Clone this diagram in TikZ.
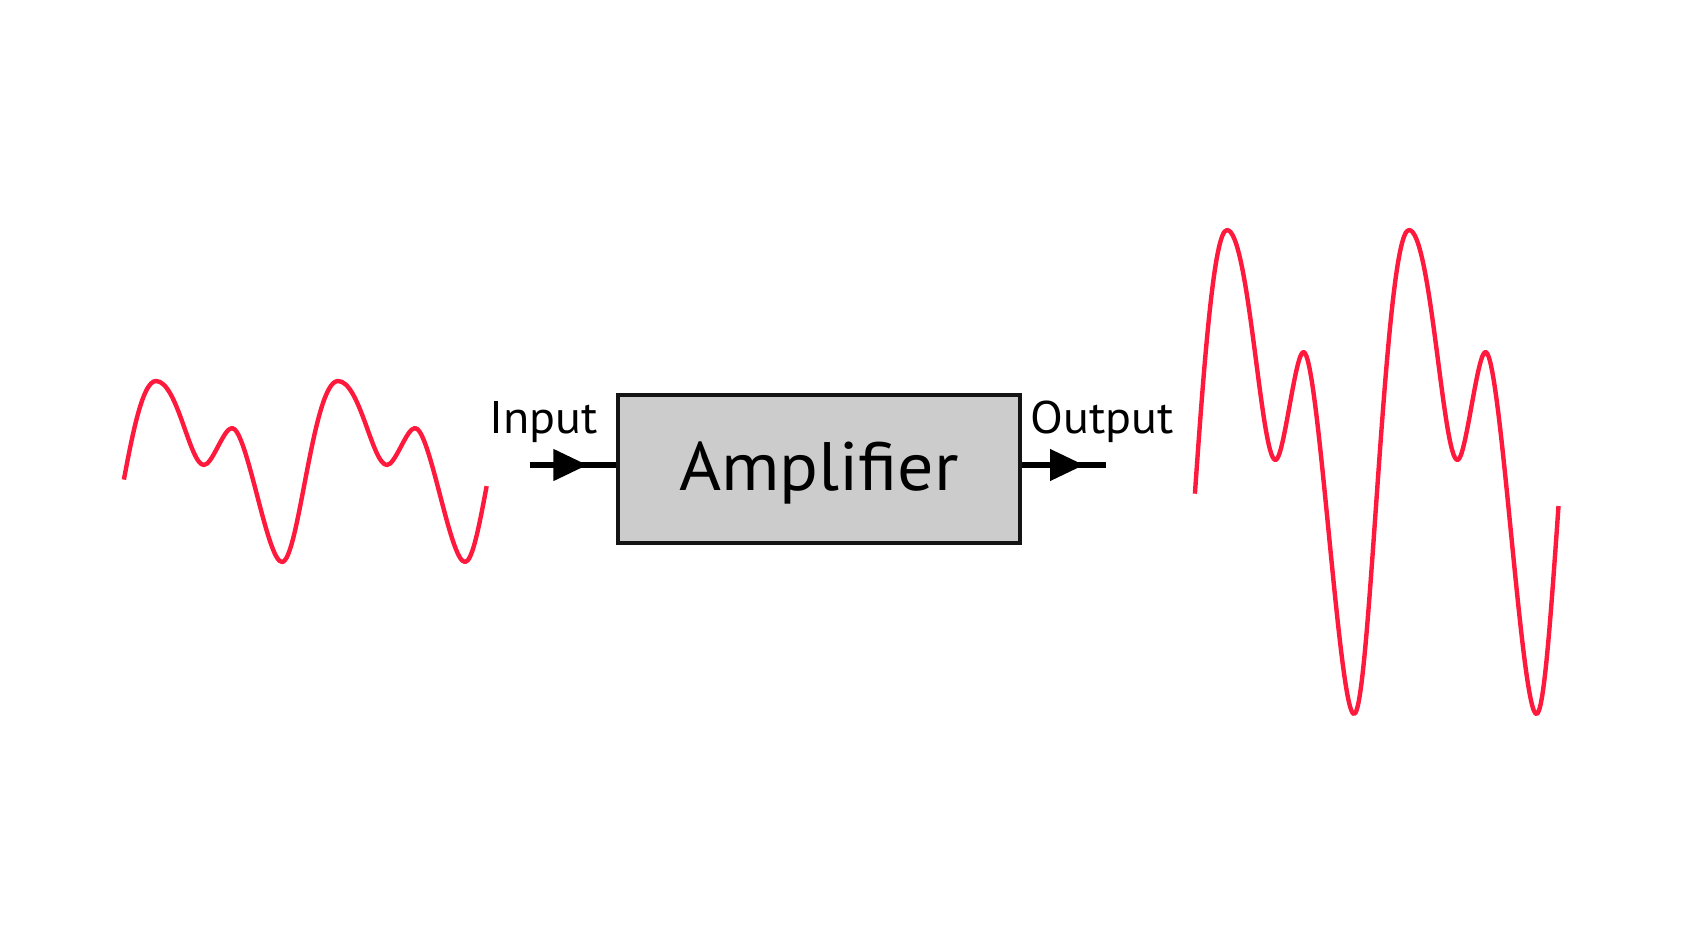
\documentclass[tikz,border=0pt]{standalone}
\usepackage{fontspec}
\newfontfamily\labelfont[FakeStretch=1.05]{PT Sans}
\usetikzlibrary{arrows.meta,decorations.markings}
\definecolor{wavered}{RGB}{255,25,60}
\definecolor{boxgray}{RGB}{204,204,204}
\definecolor{boxline}{RGB}{20,20,20}
\begin{document}
\begin{tikzpicture}[x=0.75pt,y=-0.75pt,
  wave/.style={draw=wavered, line width=3.3pt, line cap=butt, line join=round},
  ampbox/.style={draw=boxline, fill=boxgray, line width=3pt,
    minimum width=301.5pt, minimum height=111pt, inner sep=0pt,
    font=\labelfont\fontsize{51.4pt}{60pt}\selectfont,
    text height=34.5pt, text depth=1.5pt},
  iolabel/.style={inner sep=0pt, anchor=base west,
    font=\labelfont\fontsize{34.3pt}{40pt}\selectfont},
  signal/.style={line width=4.2pt, draw=black, postaction={decorate},
    decoration={markings, mark=at position #1 with {\arrow{Triangle[length=25.5pt,width=23pt]}}}}
]
\useasboundingbox[fill=white] (0,0) rectangle (1684,946);

% amplifier block
\node[ampbox] (amp) at (819,468.5) {Amplifier};

% labels
\node[iolabel] (inlbl) at (489,433) {Input};
\node[iolabel] (outlbl) at (1030,433) {Output};

% connectors
\coordinate (insrc) at (530,465);
\coordinate (outdst) at (1106,465);
\draw[signal=0.667] (insrc) -- (insrc -| amp.west);
\draw[signal=0.738] (amp.east |- outdst) -- (outdst);

% input waveform
\draw[wave] (123.9,479.6)
  .. controls (132.85,431.84) and (142.88,381) .. (156,381)
  .. controls +(21.6,0) and +(-14.4,0) .. (204,465)
  .. controls +(8.4,0) and +(-8.4,0) .. (232,428)
  .. controls +(15,0) and +(-15,0) .. (282,562)
  .. controls +(16.8,0) and +(-25.2,0) .. (338,381)
  .. controls +(22,0) and +(-14.7,0) .. (387,465)
  .. controls +(8.4,0) and +(-8.4,0) .. (415,428)
  .. controls +(15,0) and +(-15,0) .. (465,562)
  .. controls (472.36,562) and (479.17,526) .. (486.65,486.1);

% output waveform
\draw[wave] (1194.9,493.7)
  .. controls (1203.85,365.9) and (1213.88,230) .. (1227,230)
  .. controls +(21.8,0) and +(-14.5,0) .. (1275.5,460)
  .. controls +(8.4,0) and +(-8.4,0) .. (1303.5,352)
  .. controls +(15,0) and +(-15,0) .. (1354,714)
  .. controls +(16.5,0) and +(-24.75,0) .. (1409,230)
  .. controls +(21.8,0) and +(-14.5,0) .. (1457.5,460)
  .. controls +(8.4,0) and +(-8.4,0) .. (1485.5,352)
  .. controls +(15.2,0) and +(-15.2,0) .. (1536.5,714)
  .. controls (1543.97,714) and (1550.88,614.68) .. (1558.5,506);
\end{tikzpicture}
\end{document}
